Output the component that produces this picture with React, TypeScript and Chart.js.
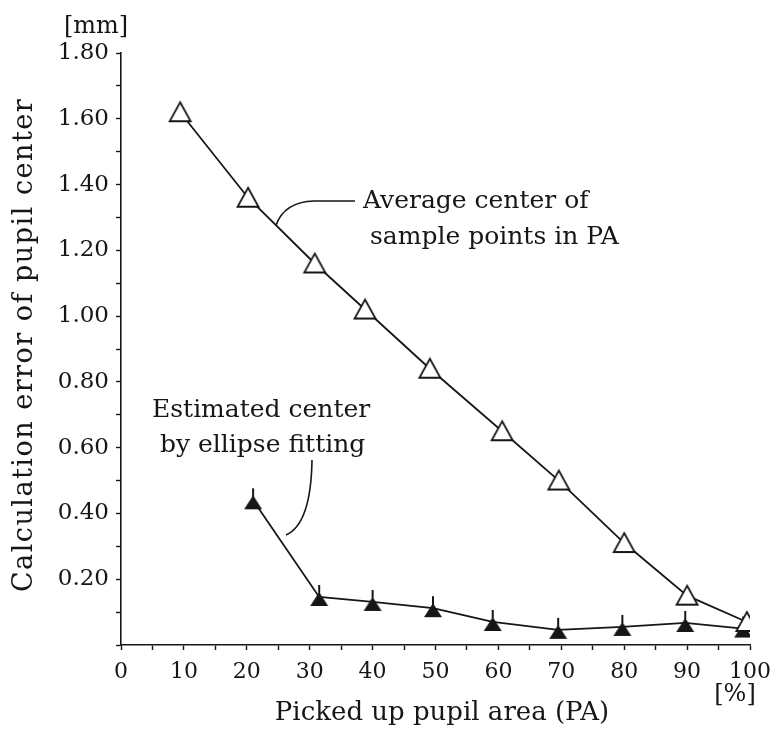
import React, { useEffect, useRef } from "react";
import { Chart, registerables } from "chart.js";

Chart.register(...registerables);

// Average center of sample points in PA (open triangles)
const avgX = [9.4, 20.2, 30.8, 38.8, 49.1, 60.6, 69.6, 80.0, 90.0, 99.5];
const avgY = [1.62, 1.36, 1.16, 1.02, 0.84, 0.65, 0.5, 0.31, 0.15, 0.07];
// Estimated center by ellipse fitting (filled triangles)
const fitX = [21.0, 31.5, 40.0, 49.6, 59.1, 69.5, 79.7, 89.7, 98.9];
const fitY = [0.44, 0.146, 0.131, 0.112, 0.07, 0.046, 0.055, 0.067, 0.05];

const xTitle = "Picked up pupil area (PA)";
const yTitle = "Calculation error of pupil center";
const xUnit = "[%]";
const yUnit = "[mm]";
const avgLabel = ["Average center of", "sample points in PA"];
const fitLabel = ["Estimated center", "by ellipse fitting"];

const FONT = '"DejaVu Serif", serif';
const INK = "#161616";

function makeOpenTriangle(): HTMLCanvasElement {
  const c = document.createElement("canvas");
  c.width = 26;
  c.height = 26;
  const g = c.getContext("2d")!;
  g.lineWidth = 1.8;
  g.strokeStyle = INK;
  g.fillStyle = "#ffffff";
  g.beginPath();
  g.moveTo(13, 3);
  g.lineTo(23.5, 22);
  g.lineTo(2.5, 22);
  g.closePath();
  g.fill();
  g.stroke();
  return c;
}

function makeFilledTriangle(): HTMLCanvasElement {
  const c = document.createElement("canvas");
  c.width = 22;
  c.height = 26;
  const g = c.getContext("2d")!;
  g.fillStyle = INK;
  g.strokeStyle = INK;
  g.beginPath();
  g.moveTo(11, 8);
  g.lineTo(20, 22);
  g.lineTo(2, 22);
  g.closePath();
  g.fill();
  g.lineWidth = 2;
  g.beginPath();
  g.moveTo(11, 1);
  g.lineTo(11, 12);
  g.stroke();
  return c;
}

const annotPlugin = {
  id: "annot",
  afterDraw(chart: any) {
    const ctx = chart.ctx as CanvasRenderingContext2D;
    const xs = chart.scales.x;
    const ys = chart.scales.y;
    ctx.save();
    ctx.fillStyle = INK;
    ctx.strokeStyle = INK;
    ctx.textBaseline = "alphabetic";
    ctx.textAlign = "left";
    ctx.font = `25px ${FONT}`;
    ctx.fillText(avgLabel[0], 363, 208);
    ctx.fillText(avgLabel[1], 370, 244);
    ctx.fillText(fitLabel[0], 152, 417);
    ctx.fillText(fitLabel[1], 160, 452);

    // leader to the average line: anchored on the segment between points 2 and 3
    const t = 0.42;
    const ax = xs.getPixelForValue(avgX[1] + (avgX[2] - avgX[1]) * t);
    const ay = ys.getPixelForValue(avgY[1] + (avgY[2] - avgY[1]) * t);
    ctx.lineWidth = 1.6;
    ctx.beginPath();
    ctx.moveTo(ax, ay);
    ctx.quadraticCurveTo(ax + 8, 202, 314, 201);
    ctx.lineTo(355, 201);
    ctx.stroke();
    ctx.beginPath();
    ctx.moveTo(312, 460);
    ctx.quadraticCurveTo(311, 524, 286, 535);
    ctx.stroke();

    ctx.textAlign = "center";
    ctx.font = `24px ${FONT}`;
    ctx.fillText(yUnit, 96, 33);
    ctx.fillText(xUnit, 735, 701);

    ctx.font = `26px ${FONT}`;
    ctx.fillText(xTitle, 442, 720);
    ctx.font = `27px ${FONT}`;
    (ctx as any).letterSpacing = "1.5px";
    ctx.translate(25, 345);
    ctx.rotate(-Math.PI / 2);
    ctx.textBaseline = "middle";
    ctx.fillText(yTitle, 0, 0);
    ctx.restore();
  },
};

export default function App() {
  const ref = useRef<HTMLCanvasElement | null>(null);

  useEffect(() => {
    document.body.style.margin = "0";
    const canvas = ref.current!;
    const openTri = makeOpenTriangle();
    const fillTri = makeFilledTriangle();
    const chart = new Chart(canvas, {
      type: "line",
      data: {
        datasets: [
          {
            label: "Average center of sample points in PA",
            data: avgX.map((x, i) => ({ x, y: avgY[i] })),
            borderColor: INK,
            borderWidth: 1.8,
            pointStyle: openTri as any,
            pointRadius: 12,
            tension: 0,
          },
          {
            label: "Estimated center by ellipse fitting",
            data: fitX.map((x, i) => ({ x, y: fitY[i] })),
            borderColor: INK,
            borderWidth: 1.8,
            pointStyle: fillTri as any,
            pointRadius: 12,
            tension: 0,
          },
        ],
      },
      options: {
        responsive: false,
        animation: false,
        devicePixelRatio: 1,
        layout: { padding: { left: 0, top: 53, right: 21, bottom: 0 } },
        plugins: {
          legend: { display: false },
          tooltip: { enabled: false },
        },
        scales: {
          x: {
            type: "linear",
            min: 0,
            max: 100,
            afterFit: (s: any) => {
              s.height = 90;
              s.paddingRight = 0;
              s.paddingLeft = 0;
            },
            border: { display: true, color: INK, width: 1.6 },
            grid: { drawOnChartArea: false, drawTicks: true, tickLength: 5, color: INK, tickColor: INK, tickWidth: 1.4 },
            ticks: {
              stepSize: 5,
              autoSkip: false,
              maxRotation: 0,
              padding: 9,
              color: INK,
              font: { family: FONT, size: 22 },
              callback: (v: any) => (Math.round(v) % 10 === 0 ? String(Math.round(v)) : ""),
            },
          },
          y: {
            type: "linear",
            min: 0,
            max: 1.8,
            afterFit: (s: any) => {
              s.width = 121;
            },
            border: { display: true, color: INK, width: 1.6 },
            grid: { drawOnChartArea: false, drawTicks: true, tickLength: 5, color: INK, tickColor: INK, tickWidth: 1.4 },
            ticks: {
              stepSize: 0.1,
              autoSkip: false,
              padding: 7,
              color: INK,
              font: { family: FONT, size: 23 },
              callback: (v: any) => {
                const k = Math.round(Number(v) * 10);
                return k > 0 && k % 2 === 0 ? (k / 10).toFixed(2) : "";
              },
            },
          },
        },
      },
      plugins: [annotPlugin],
    });
    return () => chart.destroy();
  }, []);

  return (
    <div style={{ width: 771, height: 735, background: "#fff" }}>
      <canvas ref={ref} width={771} height={735} style={{ display: "block" }} />
    </div>
  );
}
